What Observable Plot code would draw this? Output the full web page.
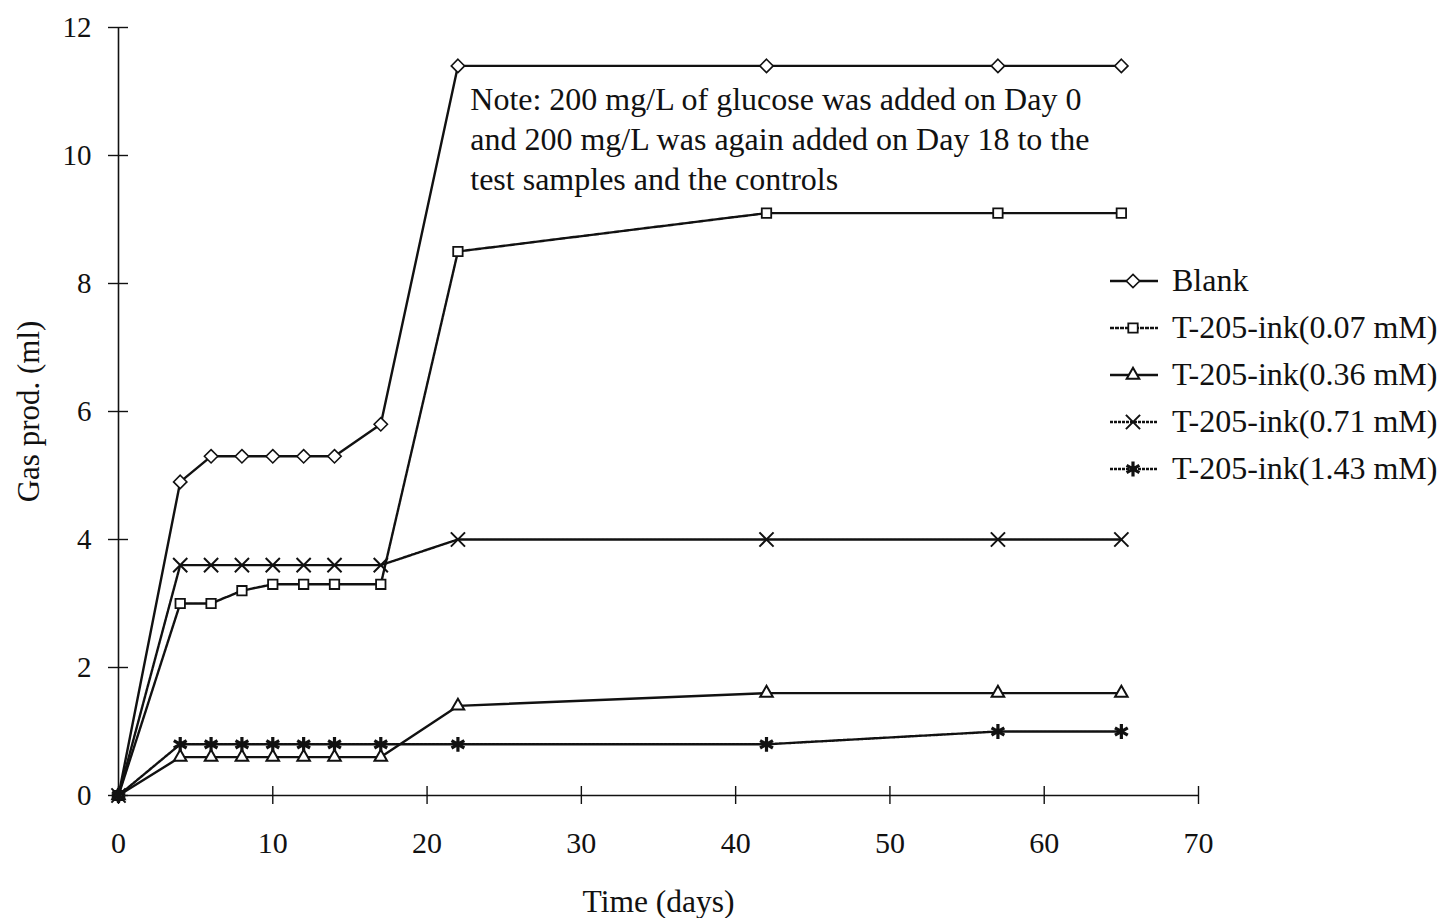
<!DOCTYPE html>
<html>
<head>
<meta charset="utf-8">
<script src="https://cdn.jsdelivr.net/npm/d3@7"></script>
<script src="https://cdn.jsdelivr.net/npm/@observablehq/plot@0.6"></script>
<style>
  html, body { margin: 0; padding: 0; background: #fff; }
  #wrap { position: relative; width: 1450px; height: 918px; font-family: "Liberation Serif", "Times New Roman", serif; }
  #legend { position: absolute; left: 1108px; top: 257px; font-size: 32px; color: #111; z-index: 2; }
  #legend .row { display: flex; align-items: center; height: 47px; white-space: nowrap; }
  #legend svg { margin-right: 4px; }
</style>
</head>
<body>
<div id="wrap"><div id="legend"></div></div>
<script>
const days = [0, 4, 6, 8, 10, 12, 14, 17, 22, 42, 57, 65];
const seriesNames = ["Blank", "T-205-ink(0.07 mM)", "T-205-ink(0.36 mM)", "T-205-ink(0.71 mM)", "T-205-ink(1.43 mM)"];
const blank = [0, 4.9, 5.3, 5.3, 5.3, 5.3, 5.3, 5.8, 11.4, 11.4, 11.4, 11.4];
const ink007 = [0, 3.0, 3.0, 3.2, 3.3, 3.3, 3.3, 3.3, 8.5, 9.1, 9.1, 9.1];
const ink036 = [0, 0.6, 0.6, 0.6, 0.6, 0.6, 0.6, 0.6, 1.4, 1.6, 1.6, 1.6];
const ink071 = [0, 3.6, 3.6, 3.6, 3.6, 3.6, 3.6, 3.6, 4.0, 4.0, 4.0, 4.0];
const ink143 = [0, 0.8, 0.8, 0.8, 0.8, 0.8, 0.8, 0.8, 0.8, 0.8, 1.0, 1.0];
const xTicks = [0, 10, 20, 30, 40, 50, 60, 70];
const yTicks = [0, 2, 4, 6, 8, 10, 12];
const noteLines = ["Note: 200 mg/L of glucose was added on Day 0", "and 200 mg/L was again added on Day 18 to the", "test samples and the controls"];

const seriesValues = [blank, ink007, ink036, ink071, ink143];
const symbols = ["diamond2", "square2", "triangle2", "times", "asterisk"];
const radii = [6, 6, 6, 6.5, 7];
const symStroke = [1.6, 1.8, 2, 2, 3.2];
const dashes = [null, "4,1", null, "3,1", "3,1"];

const data = seriesNames.map((name, i) => days.map((d, j) => ({series: name, day: d, gas: seriesValues[i][j]})));

const ink = "#111";
const marks = [
  Plot.ruleY([0], {x1: 0, x2: 70, stroke: ink, strokeWidth: 1.6}),
  Plot.ruleX([0], {y1: 0, y2: 12, stroke: ink, strokeWidth: 1.6}),
  Plot.ruleY(yTicks, {y: d => d, x1: 0, x2: 0, insetLeft: -10, insetRight: -10, stroke: ink, strokeWidth: 1.4}),
  Plot.ruleX(xTicks, {x: d => d, y1: 0, y2: 0, insetTop: -9, insetBottom: -9, stroke: ink, strokeWidth: 1.4}),
  Plot.text(yTicks, {x: 0, y: d => d, text: d => String(d), dx: -27, textAnchor: "end", fontSize: 29, fill: ink}),
  Plot.text(xTicks, {x: d => d, y: 0, text: d => String(d), dy: 48, fontSize: 30, fill: ink}),
];
data.forEach((rows, i) => {
  marks.push(Plot.line(rows, {x: "day", y: "gas", stroke: ink, strokeWidth: 2.4, strokeDasharray: dashes[i]}));
});
data.forEach((rows, i) => {
  marks.push(Plot.dot(rows, {x: "day", y: "gas", symbol: () => symbols[i], r: radii[i], stroke: ink, fill: "white", strokeWidth: symStroke[i]}));
});
marks.push(Plot.text(noteLines, {
  x: 22.8, y: (d, i) => 10.87 - i * 0.625, text: d => d, textAnchor: "start", fontSize: 32, fill: ink
}));
marks.push(Plot.text(["Gas prod. (ml)"], {x: 0, y: 6, text: d => d, rotate: -90, dx: -89, fontSize: 31, fill: ink}));
marks.push(Plot.text(["Time (days)"], {x: 35, y: 0, text: d => d, dy: 106, fontSize: 31.5, fill: ink}));

const chart = Plot.plot({
  width: 1450,
  height: 918,
  marginLeft: 118,
  marginRight: 252,
  marginTop: 27,
  marginBottom: 123,
  style: {fontFamily: "'Liberation Serif', 'Times New Roman', serif", background: "white", overflow: "visible"},
  x: {domain: [0, 70], axis: null},
  y: {domain: [0, 12], axis: null},
  symbol: {type: "identity"},
  marks
});
document.getElementById("wrap").prepend(chart);
chart.style.position = "absolute";
chart.style.left = "0";
chart.style.top = "0";

const legend = d3.select("#legend");
seriesNames.forEach((name, i) => {
  const row = legend.append("div").attr("class", "row");
  const svg = row.append("svg").attr("width", 60).attr("height", 20);
  svg.append("line").attr("x1", 2).attr("x2", 50).attr("y1", 10).attr("y2", 10)
    .attr("stroke", ink).attr("stroke-width", 2.4).attr("stroke-dasharray", dashes[i]);
  const sym = {diamond2: d3.symbolDiamond2, square2: d3.symbolSquare2, triangle2: d3.symbolTriangle2, times: d3.symbolTimes, asterisk: d3.symbolAsterisk}[symbols[i]];
  svg.append("path").attr("transform", "translate(25,10)")
    .attr("d", d3.symbol(sym, Math.PI * radii[i] * radii[i])())
    .attr("fill", "white").attr("stroke", ink).attr("stroke-width", symStroke[i]);
  row.append("span").text(name);
});
</script>
</body>
</html>
